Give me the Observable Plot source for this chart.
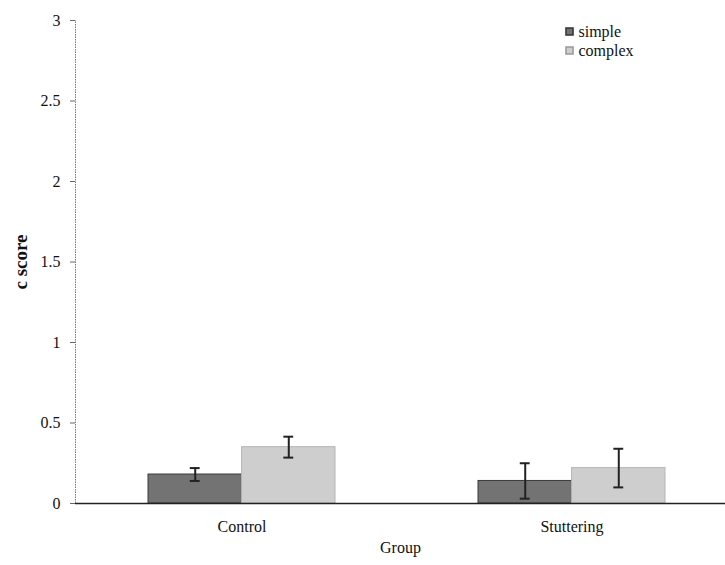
<!DOCTYPE html>
<html>
<head>
<meta charset="utf-8">
<script src="https://cdn.jsdelivr.net/npm/d3@7"></script>
<script src="https://cdn.jsdelivr.net/npm/@observablehq/plot@0.6"></script>
<style>
  body { margin: 0; background: #fff; }
  #chart svg { font-family: "Liberation Serif", serif; }
</style>
</head>
<body>
<div id="chart"></div>
<script>
const groups = ["Control", "Stuttering"];
const conditions = ["simple", "complex"];
const simpleMeans = [0.18, 0.14];
const complexMeans = [0.35, 0.22];
const simpleErr = [0.04, 0.11];
const complexErr = [0.065, 0.12];
const yTicks = [0, 0.5, 1, 1.5, 2, 2.5, 3];

const simpleRows = groups.map((g, i) => ({group: g, condition: "simple", mean: simpleMeans[i], err: simpleErr[i]}));
const complexRows = groups.map((g, i) => ({group: g, condition: "complex", mean: complexMeans[i], err: complexErr[i]}));

const W = 725, H = 565, ML = 75, MT = 20, MB = 62;
const xOpts = {type: "band", domain: groups, range: [ML, 738], paddingInner: 0.433, paddingOuter: 0.221};
const bw = Plot.scale({x: xOpts}).bandwidth;
const cap = 5;
const fillSimple = "#737373", fillComplex = "#cecece";

function errMarks(rows, side) {
  const c = side === "left" ? bw / 4 : 3 * bw / 4;
  const inL = c - cap, inR = bw - c - cap;
  const dx = side === "left" ? -bw / 4 : bw / 4;
  return [
    Plot.ruleX(rows, {x: "group", y1: d => d.mean - d.err, y2: d => d.mean + d.err, dx, stroke: "#222", strokeWidth: 2}),
    Plot.tickY(rows, {x: "group", y: d => d.mean + d.err, insetLeft: inL, insetRight: inR, stroke: "#222", strokeWidth: 2}),
    Plot.tickY(rows, {x: "group", y: d => d.mean - d.err, insetLeft: inL, insetRight: inR, stroke: "#222", strokeWidth: 2})
  ];
}

const plot = Plot.plot({
  width: W, height: H,
  marginLeft: ML, marginRight: 0, marginTop: MT, marginBottom: MB,
  style: {fontFamily: "Liberation Serif, serif", fontSize: "15px", background: "#fff", color: "#111"},
  x: {...xOpts, axis: null},
  y: {domain: [0, 3], axis: null},
  marks: [
    Plot.axisY({ticks: yTicks, tickSize: 5, tickPadding: 10, tickFormat: d => String(d), fontSize: 16, stroke: "#666",
      label: "c score", labelAnchor: "center", labelOffset: 62, labelArrow: "none"}),
    Plot.axisX({tickSize: 0, tickPadding: 17, fontSize: 16, label: "Group", labelAnchor: "center", labelOffset: 49, labelArrow: "none"}),
    Plot.barY(simpleRows, {x: "group", y: "mean", fill: fillSimple, stroke: "#3a3a3a", strokeWidth: 1, insetRight: bw / 2}),
    Plot.barY(complexRows, {x: "group", y: "mean", fill: fillComplex, stroke: "#b5b5b5", strokeWidth: 1, insetLeft: bw / 2}),
    ...errMarks(simpleRows, "left"),
    ...errMarks(complexRows, "right"),
    Plot.ruleY([0], {stroke: "#222", strokeWidth: 1.5}),
    Plot.dot([conditions[0]], {frameAnchor: "top-right", dx: -156, dy: 11, symbol: "square", r: 4, fill: fillSimple, stroke: "#333"}),
    Plot.dot([conditions[1]], {frameAnchor: "top-right", dx: -156, dy: 30, symbol: "square", r: 4, fill: fillComplex, stroke: "#999"}),
    Plot.text([conditions[0]], {frameAnchor: "top-right", lineAnchor: "middle", dx: -147, dy: 11, text: d => d, textAnchor: "start", fontSize: 16, fill: "#111"}),
    Plot.text([conditions[1]], {frameAnchor: "top-right", lineAnchor: "middle", dx: -147, dy: 30, text: d => d, textAnchor: "start", fontSize: 16, fill: "#111"})
  ]
});

// y axis line (dotted) from the library's y scale
const y = plot.scale("y");
const svg = d3.select(plot);
svg.append("line")
  .attr("x1", ML + 0.5).attr("x2", ML + 0.5)
  .attr("y1", y.apply(0)).attr("y2", y.apply(3))
  .attr("stroke", "#777").attr("stroke-width", 1).attr("stroke-dasharray", "1.5,1");
svg.select("g[aria-label='y-axis label']").attr("font-weight", "bold").attr("font-size", 19);
svg.select("g[aria-label='x-axis label']").attr("font-size", 16);

document.getElementById("chart").appendChild(plot);
</script>
</body>
</html>
